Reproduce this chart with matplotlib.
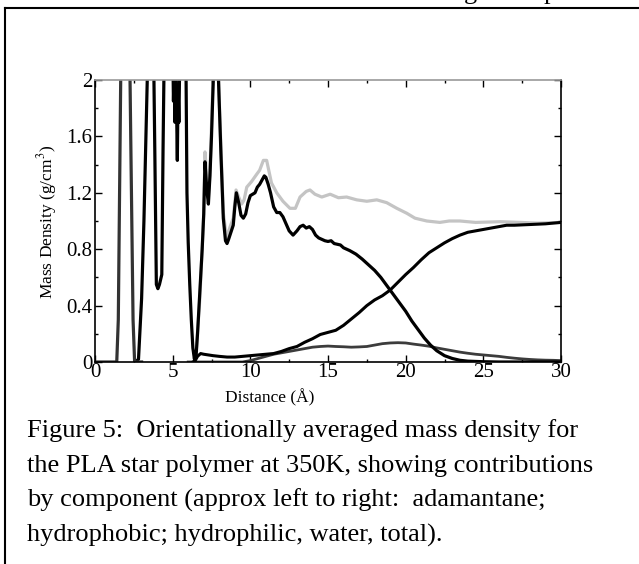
import matplotlib
matplotlib.use("Agg")
import matplotlib.pyplot as plt
from matplotlib.lines import Line2D
from matplotlib.ticker import MultipleLocator

plt.rcParams['font.family'] = ['Liberation Serif', 'DejaVu Serif']
plt.rcParams['mathtext.fontset'] = 'stix'

W, H = 639, 564

# ---------------- data ----------------
adam_x = [0.0, 1.4, 1.5, 1.6, 1.7, 2.2, 2.3, 2.45, 2.55, 3.0]
adam_y = [0.0, 0.0, 0.3, 1.4, 2.5, 2.5, 1.6, 0.3, 0.0, 0.0]

phob_x = [2.6, 2.8, 3.0, 3.15, 3.3, 3.45, 3.6, 3.75, 3.85, 3.95, 4.05, 4.15, 4.3, 4.38,
          4.5, 4.8, 5.0, 5.05, 5.1, 5.15, 5.2, 5.25, 5.3, 5.35, 5.4, 5.5, 5.7, 5.85, 5.92,
          6.0, 6.1, 6.2, 6.3, 6.4, 6.5, 6.6, 6.75, 6.9, 7.0, 7.08, 7.15, 7.22, 7.3, 7.4,
          7.5, 7.6, 7.7, 7.85, 7.95, 8.1, 8.26, 8.4, 8.5, 8.6, 8.75, 8.9, 9.0, 9.1, 9.25,
          9.4, 9.55, 9.7, 9.85, 10.0, 10.15, 10.3, 10.45, 10.6, 10.75, 10.9, 11.0, 11.15,
          11.3, 11.5, 11.7, 11.9, 12.1, 12.3, 12.5, 12.75, 13.0, 13.2, 13.4, 13.6, 13.8,
          14.0, 14.2, 14.4, 14.6, 14.8, 15.0, 15.2, 15.4, 15.6, 15.8, 16.0, 16.4, 16.8,
          17.2, 17.6, 18.0, 18.4, 18.8, 19.2, 19.6, 20.0, 20.4, 20.8, 21.2, 21.6, 22.0,
          22.5, 23.0, 23.5, 24.0, 25.0, 26.0, 28.0, 30.0]
phob_y = [0.0, 0.02, 0.45, 1.0, 1.7, 2.4, 2.8, 2.4, 1.5, 0.55, 0.52, 0.55, 0.62, 1.5,
          2.6, 2.8, 2.3, 1.85, 2.1, 1.7, 2.05, 1.8, 1.43, 1.95, 1.7, 2.5, 2.8, 2.2, 1.2,
          0.85, 0.55, 0.3, 0.1, 0.02, 0.03, 0.2, 0.5, 0.8, 1.05, 1.42, 1.3, 1.2, 1.12, 1.32,
          1.6, 1.95, 2.3, 2.4, 2.0, 1.5, 1.02, 0.86, 0.84, 0.87, 0.92, 0.97, 1.1, 1.2, 1.13,
          1.04, 1.02, 1.05, 1.13, 1.18, 1.19, 1.2, 1.24, 1.26, 1.29, 1.32, 1.31, 1.26,
          1.2, 1.1, 1.06, 1.06, 1.03, 0.98, 0.93, 0.9, 0.93, 0.96, 0.97, 0.95, 0.96,
          0.94, 0.9, 0.88, 0.87, 0.86, 0.855, 0.86, 0.84, 0.835, 0.83, 0.81, 0.79, 0.765,
          0.73, 0.69, 0.65, 0.6, 0.54, 0.48, 0.42, 0.36, 0.29, 0.23, 0.17, 0.12, 0.08,
          0.045, 0.025, 0.012, 0.006, 0.002, 0.0, 0.0, 0.0]

water_x = [6.3, 6.45, 6.6, 6.8, 7.0, 7.3, 7.6, 8.0, 8.5, 9.0, 9.5, 10.0, 10.5, 11.0, 11.5,
           12.0, 12.5, 13.0, 13.5, 14.0, 14.5, 15.0, 15.5, 16.0, 16.5, 17.0, 17.5, 18.0,
           18.5, 19.0, 19.5, 20.0, 20.5, 21.0, 21.5, 22.0, 22.5, 23.0, 23.5, 24.0, 24.5,
           25.0, 25.5, 26.0, 26.5, 27.0, 28.0, 29.0, 29.5, 30.0]
water_y = [0.0, 0.01, 0.04, 0.06, 0.055, 0.05, 0.045, 0.04, 0.035, 0.035, 0.04, 0.045,
           0.05, 0.055, 0.06, 0.075, 0.095, 0.11, 0.14, 0.165, 0.195, 0.21, 0.225, 0.26,
           0.305, 0.35, 0.4, 0.44, 0.47, 0.51, 0.565, 0.62, 0.67, 0.725, 0.775, 0.81,
           0.845, 0.875, 0.9, 0.92, 0.93, 0.94, 0.95, 0.96, 0.97, 0.97, 0.975, 0.98,
           0.985, 0.99]

phil_x = [6.0, 9.5, 10.0, 10.5, 11.0, 11.5, 12.0, 12.5, 13.0, 13.5, 14.0, 14.5, 15.0,
          15.5, 16.0, 16.5, 17.0, 17.5, 18.0, 18.5, 19.0, 19.5, 20.0, 20.5, 21.0, 21.5,
          22.0, 22.5, 23.0, 23.5, 24.0, 24.5, 25.0, 25.5, 26.0, 26.5, 27.0, 27.5, 28.0,
          28.5, 29.0, 29.5, 30.0]
phil_y = [0.0, 0.0, 0.01, 0.025, 0.04, 0.055, 0.065, 0.075, 0.085, 0.095, 0.105, 0.11,
          0.113, 0.11, 0.108, 0.105, 0.107, 0.11, 0.12, 0.13, 0.135, 0.137, 0.135, 0.127,
          0.12, 0.112, 0.1, 0.09, 0.08, 0.07, 0.062, 0.055, 0.05, 0.045, 0.04, 0.033,
          0.027, 0.022, 0.018, 0.015, 0.013, 0.012, 0.01]

total_x = [6.4, 6.5, 6.75, 7.0, 7.08, 7.2, 7.3, 7.4, 7.55, 7.7, 7.9, 8.0, 8.26, 8.47, 8.7,
           8.9, 9.08, 9.25, 9.44, 9.6, 9.77, 10.08, 10.4, 10.6, 10.84, 11.05, 11.36, 11.7,
           12.1, 12.55, 12.9, 13.2, 13.6, 13.84, 14.16, 14.6, 15.14, 15.67, 16.2, 16.85,
           17.5, 18.14, 18.78, 19.43, 20.07, 20.6, 21.36, 22.2, 22.8, 23.5, 24.5, 26.1,
           27.4, 28.5, 30.0]
total_y = [0.03, 0.05, 0.45, 1.05, 1.49, 1.3, 1.17, 1.34, 1.85, 2.3, 2.3, 1.85, 1.06, 0.88,
           0.96, 1.02, 1.22, 1.17, 1.12, 1.15, 1.24, 1.28, 1.33, 1.36, 1.43, 1.43, 1.27,
           1.2, 1.14, 1.09, 1.09, 1.17, 1.21, 1.22, 1.19, 1.17, 1.19, 1.165, 1.17, 1.15,
           1.14, 1.15, 1.13, 1.09, 1.055, 1.02, 1.0, 0.99, 1.0, 1.0, 0.99, 0.995, 0.99,
           0.985, 0.99]

x_ticks = [0, 5, 10, 15, 20, 25, 30]
y_ticks = [0, 0.4, 0.8, 1.2, 1.6, 2.0]
y_tick_labels = ["0", "0.4", "0.8", "1.2", "1.6", "2"]

caption_lines = [
    "Figure 5:  Orientationally averaged mass density for",
    "the PLA star polymer at 350K, showing contributions",
    "by component (approx left to right:  adamantane;",
    "hydrophobic; hydrophilic, water, total).",
]

# ---------------- figure ----------------
fig = plt.figure(figsize=(W / 100, H / 100), dpi=100)

def fx(px):
    return px / W

def fy(py):
    return 1 - py / H

L, R, T, B = 95, 561, 80, 362
ax = fig.add_axes([fx(L), fy(B), fx(R - L), (B - T) / H])

ax.plot(total_x, total_y, color='#c4c4c4', lw=2.3, solid_joinstyle='round')
ax.plot(phil_x, phil_y, color='#3c3c3c', lw=2.0)
ax.plot(water_x, water_y, color='black', lw=2.2)
ax.plot(phob_x, phob_y, color='black', lw=2.3)
ax.plot(adam_x, adam_y, color='#333333', lw=2.3)

ax.set_xlim(0, 30)
ax.set_ylim(0, 2)
ax.set_xticks(x_ticks)
ax.set_xticklabels([str(v) for v in x_ticks])
ax.set_yticks(y_ticks)
ax.set_yticklabels(y_tick_labels)
ax.xaxis.set_minor_locator(MultipleLocator(2.5))
ax.yaxis.set_minor_locator(MultipleLocator(0.2))
ax.tick_params(which='both', direction='in', top=True, right=True, width=1.0,
               labelsize=15, colors='black')
ax.tick_params(which='major', length=5)
ax.tick_params(which='minor', length=2.5)
ax.tick_params(axis='x', pad=0.5)
ax.tick_params(axis='y', pad=2)
for s in ['left', 'bottom', 'right']:
    ax.spines[s].set_linewidth(1.2)
    ax.spines[s].set_color('black')
ax.spines['top'].set_linewidth(1.2)
ax.spines['top'].set_color('#999999')

ax.set_xlabel("Distance (Å)", fontsize=12.5)
ax.xaxis.set_label_coords((270 - L) / (R - L), -(389 - B) / (B - T))
ax.set_ylabel("Mass Density (g/cm$^{3}$)", fontsize=12.5)
ax.yaxis.set_label_coords(-(L - 59) / (R - L), (B - 222) / (B - T))

# caption
cap_base = [437, 472, 507, 542]
for line, yb in zip(caption_lines, cap_base):
    fig.text(fx(27), fy(yb), line, fontsize=19, va='baseline', ha='left')

# page frame (clipped box)
fig.add_artist(Line2D([fx(5), fx(5)], [fy(8), fy(H + 5)], color='black', lw=1.5))
fig.add_artist(Line2D([fx(5), fx(W + 5)], [fy(8), fy(8)], color='black', lw=1.5))

# clipped descenders of the previous page line
fig.text(fx(464), fy(-1), "g", fontsize=19, va='baseline', ha='left')
fig.text(fx(544), fy(-1), "p", fontsize=19, va='baseline', ha='left')

fig.savefig("out.png", dpi=100)
